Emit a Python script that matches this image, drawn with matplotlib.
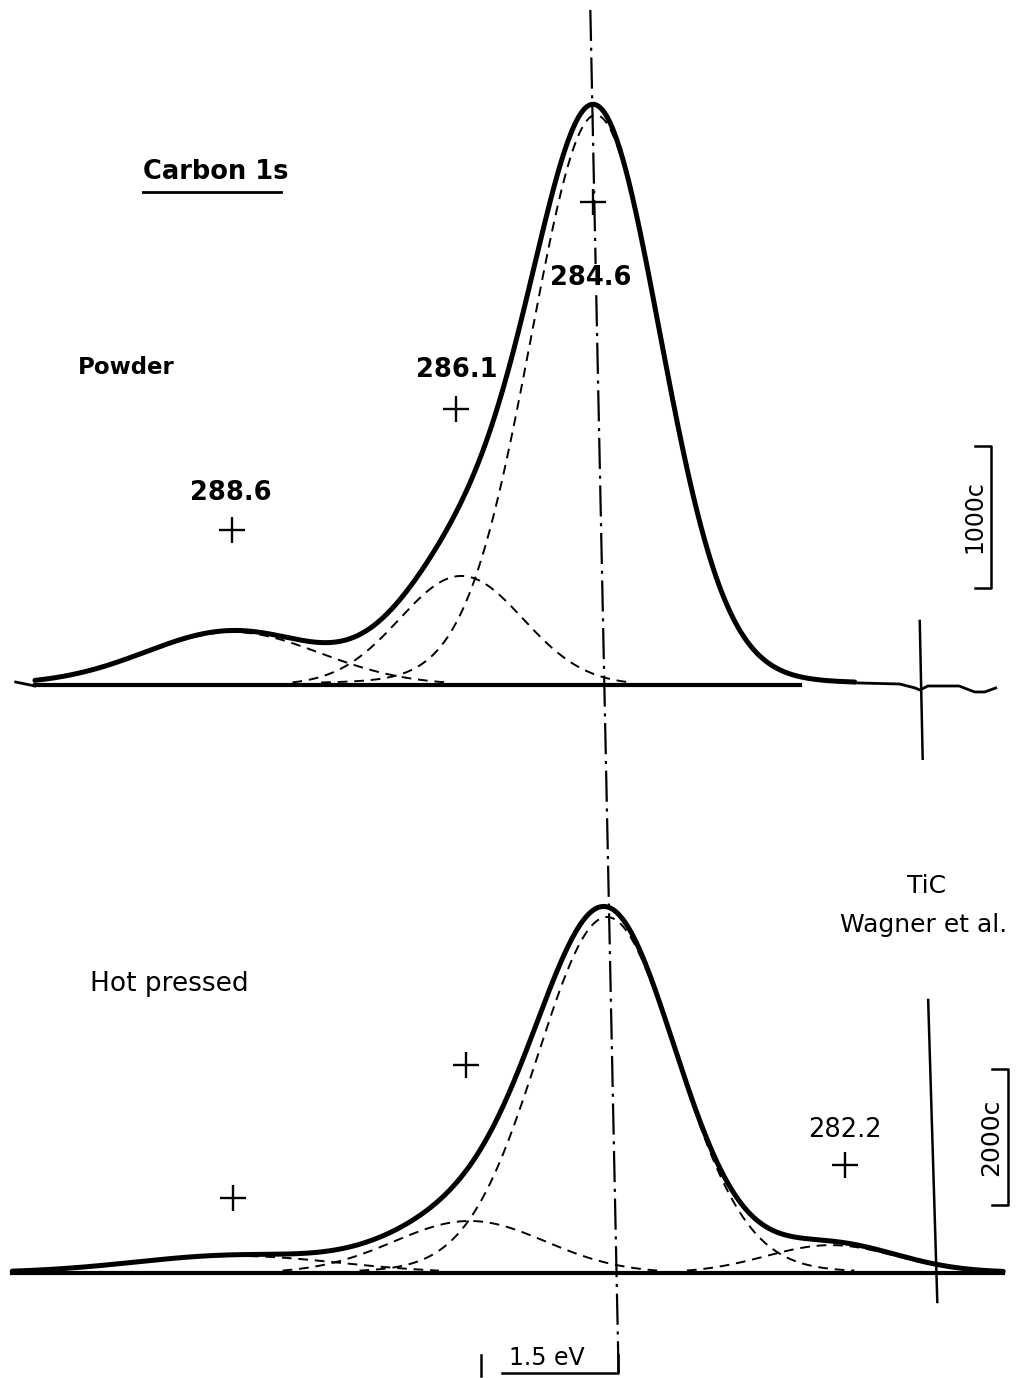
import numpy as np
import matplotlib.pyplot as plt

# C 1s fit components, powder sample: centre (eV), height (counts), FWHM (eV), Lorentzian fraction
powder_centers = [288.55, 286.05, 284.58]
powder_heights = [373, 768, 4014]
powder_fwhm = [2.24, 1.59, 1.68]
powder_eta = [0.0, 0.0, 0.06]
powder_span = (290.71, 281.75)

# recorded trace outside the fitted window (eV, counts)
powder_lead_e = [290.92, 290.71]
powder_lead_c = [21, -7]
powder_tail_e = [281.75, 281.69, 281.26, 281.09, 281.04, 280.95, 280.61, 280.44, 280.33, 280.21]
powder_tail_c = [15, 14, 7, -21, -35, -7, -7, -49, -49, -21]

# C 1s fit components, hot pressed sample
hot_centers = [288.65, 286.1, 284.6, 282.15]
hot_heights = [250, 765, 5235, 410]
hot_fwhm = [2.63, 1.95, 1.8, 1.68]
hot_eta = [0.0, 0.0, 0.05, 0.0]
hot_span = (291.1, 280.27)

# peak markers (+) and their labels
powder_cross_e = [288.56, 286.11, 284.61]
powder_cross_c = [1092, 1944, 3401]
powder_label_e = [288.57, 286.10, 284.64]
powder_label_c = [1352, 2218, 2866]
powder_labels = ['288.6', '286.1', '284.6']

hot_cross_e = [288.69, 286.14, 282.00]
hot_cross_c = [1103, 3059, 1588]
hot_label_e = [282.0]
hot_label_c = [2103]
hot_labels = ['282.2']

# vertical reference lines at the right of each trace (eV, counts)
powder_ref_e = [281.04, 281.00]
powder_ref_c = [451, -754]
hot_ref_e = [281.09, 280.99]
hot_ref_c = [4015, -426]

# C 1s reference line running through both traces (top-axes units)
ref_line_e = [284.64, 284.33]
ref_line_c = [4754, -4880]

# scale bars
powder_bar = dict(e=280.26, c0=683, size=1000, label='1000c')
hot_bar = dict(e=280.22, c0=1000, size=2000, label='2000c')
ev_bar = dict(e0=285.98, size=1.5, label='1.5 eV')

W, H = 1021, 1378
SPLIT = 760          # pixel row where the two panels meet
PX_EV = 91.5         # pixels per eV
TOP_PX_C = 0.142     # pixels per count, powder
HOT_PX_C = 0.068     # pixels per count, hot pressed

DASH = (0, (5, 3.5))
DASHDOT = (0, (14, 3, 1.4, 3))


def pseudo_voigt(e, center, height, fwhm, eta):
    x = (e - center) / fwhm
    gauss = np.exp(-4 * np.log(2) * x ** 2)
    lorentz = 1 / (1 + 4 * x ** 2)
    return height * ((1 - eta) * gauss + eta * lorentz)


def draw_fit(ax, span, centers, heights, fwhm, eta, thresh):
    e = np.linspace(span[0], span[1], 800)
    total = np.zeros_like(e)
    for c, h, w, m in zip(centers, heights, fwhm, eta):
        comp = pseudo_voigt(e, c, h, w, m)
        total += comp
        ax.plot(e, np.ma.masked_less(comp, thresh), color='k', lw=1.4,
                linestyle=DASH, zorder=2)
    ax.plot(e, total, color='k', lw=3.6, solid_capstyle='round',
            solid_joinstyle='round', zorder=3)
    return e


def px(x, y):
    return x / W, 1 - y / H


fig = plt.figure(figsize=(W / 100, H / 100), dpi=100)
fig.patch.set_facecolor('white')

ax_top = fig.add_axes([0, 1 - SPLIT / H, 1, SPLIT / H])
ax_top.set_xlim(284.6 + 594 / PX_EV, 284.6 - (W - 594) / PX_EV)
ax_top.set_ylim(-(SPLIT - 685) / TOP_PX_C, 685 / TOP_PX_C)

ax_hot = fig.add_axes([0, 0, 1, (H - SPLIT) / H])
ax_hot.set_xlim(284.6 + 607 / PX_EV, 284.6 - (W - 607) / PX_EV)
ax_hot.set_ylim(-(H - 1273) / HOT_PX_C, (1273 - SPLIT) / HOT_PX_C)

for ax in (ax_top, ax_hot):
    ax.set_axis_off()

# powder spectrum
draw_fit(ax_top, powder_span, powder_centers, powder_heights,
         powder_fwhm, powder_eta, 18)
ax_top.plot([powder_span[0], 282.35], [0, 0], color='k', lw=3.0, zorder=3)
ax_top.plot(powder_lead_e, powder_lead_c, color='k', lw=2.0, zorder=3)
ax_top.plot(powder_tail_e, powder_tail_c, color='k', lw=2.0, zorder=3)
ax_top.plot(powder_ref_e, powder_ref_c, color='k', lw=1.8)

# hot pressed spectrum
draw_fit(ax_hot, hot_span, hot_centers, hot_heights, hot_fwhm, hot_eta, 35)
ax_hot.plot(hot_span, [0, 0], color='k', lw=3.0, zorder=3)
ax_hot.plot(hot_ref_e, hot_ref_c, color='k', lw=1.8)

# dash-dot reference line across both panels
ax_top.plot(ref_line_e, ref_line_c, color='k', lw=1.6, linestyle=DASHDOT,
            clip_on=False, zorder=4)

# markers and labels
ax_top.plot(powder_cross_e, powder_cross_c, '+', color='k', ms=19, mew=1.7)
for e, c, s in zip(powder_label_e, powder_label_c, powder_labels):
    ax_top.text(e, c, s, ha='center', va='center', fontsize=18.5,
                fontweight='bold', zorder=5,
                bbox=dict(facecolor='white', edgecolor='none', pad=1))
ax_hot.plot(hot_cross_e, hot_cross_c, '+', color='k', ms=19, mew=1.7)
for e, c, s in zip(hot_label_e, hot_label_c, hot_labels):
    ax_hot.text(e, c, s, ha='center', va='center', fontsize=18.5, zorder=5)

# count scale bars
for ax, bar, fs in ((ax_top, powder_bar, 17), (ax_hot, hot_bar, 18)):
    tick = 16 / PX_EV
    c0, c1 = bar['c0'], bar['c0'] + bar['size']
    ax.plot([bar['e'] + tick, bar['e'], bar['e'], bar['e'] + tick],
            [c1, c1, c0, c0], color='k', lw=1.8)
    ax.text(bar['e'] + 17 / PX_EV, (c0 + c1) / 2, bar['label'],
            rotation=90, ha='center', va='center', fontsize=fs)

# energy scale bar
e0, e1 = ev_bar['e0'], ev_bar['e0'] - ev_bar['size']
ax_hot.plot([e0, e0], [-1206, -1515], color='k', lw=1.8, clip_on=False)
ax_hot.plot([e0 - 21 / PX_EV, e1, e1], [-1471, -1471, -1206], color='k',
            lw=1.8, clip_on=False)
ax_hot.text((e0 + e1) / 2 + 0.03, -1250, ev_bar['label'], ha='center',
            va='center', fontsize=17)

# titles and sample names
fig.text(*px(143, 172), 'Carbon 1s', ha='left', va='center', fontsize=18.5,
         fontweight='bold')
fig.add_artist(plt.Line2D([143 / W, 281 / W], [1 - 192 / H] * 2, color='k', lw=2))
fig.text(*px(78, 367), 'Powder', ha='left', va='center', fontsize=16.5,
         fontweight='bold')
fig.text(*px(90, 984), 'Hot pressed', ha='left', va='center', fontsize=19)
fig.text(*px(926, 886), 'TiC', ha='center', va='center', fontsize=18)
fig.text(*px(924, 925), 'Wagner et al.', ha='center', va='center', fontsize=18)

fig.savefig('out.png', dpi=100, facecolor='white')
